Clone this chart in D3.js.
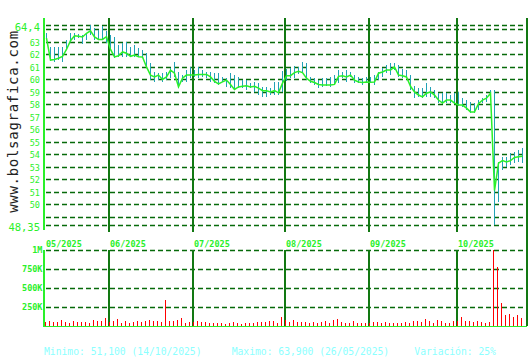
<!DOCTYPE html>
<html><head><meta charset="utf-8">
<script src="https://cdn.jsdelivr.net/npm/d3@7"></script>
<style>body{margin:0;background:#fff}svg{display:block}</style>
</head><body><svg id="c" width="530" height="360"></svg>
<script>
const dates = [
"2025-05-09","2025-05-12","2025-05-13","2025-05-14","2025-05-15","2025-05-16","2025-05-19","2025-05-20","2025-05-21","2025-05-22","2025-05-23","2025-05-26","2025-05-27","2025-05-28","2025-05-29","2025-05-30",
"2025-06-02","2025-06-03","2025-06-04","2025-06-05","2025-06-06","2025-06-09","2025-06-10","2025-06-11","2025-06-12","2025-06-13","2025-06-16","2025-06-17","2025-06-18","2025-06-19","2025-06-20","2025-06-23","2025-06-24","2025-06-25","2025-06-26","2025-06-27","2025-06-30",
"2025-07-01","2025-07-02","2025-07-03","2025-07-04","2025-07-07","2025-07-08","2025-07-09","2025-07-10","2025-07-11","2025-07-14","2025-07-15","2025-07-16","2025-07-17","2025-07-18","2025-07-21","2025-07-22","2025-07-23","2025-07-24","2025-07-25","2025-07-28","2025-07-29","2025-07-30","2025-07-31",
"2025-08-01","2025-08-04","2025-08-05","2025-08-06","2025-08-07","2025-08-08","2025-08-11","2025-08-12","2025-08-13","2025-08-14","2025-08-15","2025-08-18","2025-08-19","2025-08-20","2025-08-21","2025-08-22","2025-08-25","2025-08-26","2025-08-27","2025-08-28","2025-08-29",
"2025-09-01","2025-09-02","2025-09-03","2025-09-04","2025-09-05","2025-09-08","2025-09-09","2025-09-10","2025-09-11","2025-09-12","2025-09-15","2025-09-16","2025-09-17","2025-09-18","2025-09-19","2025-09-22","2025-09-23","2025-09-24","2025-09-25","2025-09-26","2025-09-29","2025-09-30",
"2025-10-01","2025-10-02","2025-10-03","2025-10-06","2025-10-07","2025-10-08","2025-10-09","2025-10-10","2025-10-13","2025-10-14","2025-10-15","2025-10-16","2025-10-17","2025-10-20","2025-10-21","2025-10-22","2025-10-23"];

const close = [
63.3,61.55,61.6,61.7,61.85,62.4,63.1,63.5,63.45,63.4,63.7,63.9,63.4,63.2,63.2,63.43,
62.4,61.8,61.9,62.2,62.1,61.85,61.95,61.82,61.8,61.0,60.35,60.2,60.35,60.0,60.2,60.75,60.5,59.4,60.1,60.35,60.35,
60.35,60.4,60.4,60.4,60.2,59.85,59.65,59.8,59.95,59.6,59.2,59.4,59.45,59.5,59.4,59.45,59.3,59.1,59.1,59.0,59.1,58.93,59.7,
60.3,60.3,60.55,60.65,60.55,60.1,59.85,59.75,59.6,59.55,59.55,59.55,59.6,60.25,60.3,60.2,60.35,59.95,59.8,59.75,59.8,
59.77,59.8,60.5,60.6,60.75,60.75,61.0,60.35,60.3,60.2,59.45,59.0,58.75,58.6,58.9,59.0,58.75,58.35,58.1,58.35,58.35,58.1,
57.95,57.95,57.7,57.4,57.4,58.05,58.35,58.5,58.9,51.1,53.3,53.5,53.4,53.5,53.75,53.8,53.85];

const high = [
63.75,62.62,62.57,62.57,62.62,63.16,63.7,63.7,63.62,63.56,63.75,64.36,64.1,63.97,64.3,63.9,
63.56,63.43,62.76,62.89,63.03,62.63,62.76,62.49,62.36,62.09,61.29,60.62,60.48,60.48,60.62,60.88,61.42,60.62,60.35,60.75,61.02,
60.75,61.02,60.75,60.62,60.62,60.48,60.48,60.22,60.08,60.48,60.35,60.22,59.95,59.95,59.68,59.82,59.68,59.41,59.41,59.28,59.82,59.82,60.7,
60.8,60.95,61.1,61.02,61.43,61.29,60.22,60.08,59.95,60.08,60.08,60.22,60.35,60.75,60.62,60.75,60.62,60.35,60.22,60.08,60.22,
60.22,60.35,60.62,60.89,61.16,61.29,61.29,61.16,60.8,60.75,60.35,59.5,59.28,59.28,59.7,59.41,59.15,58.88,58.88,58.88,58.75,58.88,
59.01,58.48,58.35,58.21,58.08,58.35,58.48,58.75,59.15,59.15,53.4,53.8,53.8,54.07,54.2,54.34,54.47];

const low = [
63.2,61.5,61.42,61.55,61.42,62.36,63.02,63.16,63.3,62.8,63.16,63.56,63.16,63.16,63.16,62.9,
62.36,61.75,61.77,61.82,61.82,61.8,61.82,61.8,61.75,60.95,59.95,59.82,59.95,59.82,59.95,60.08,60.22,59.28,59.82,59.82,60.08,
60.22,60.08,60.22,60.08,59.82,59.68,59.55,59.78,59.41,59.28,59.15,59.35,59.28,59.15,59.28,59.01,58.74,58.6,58.6,58.74,58.74,58.75,59.0,
59.9,60.08,60.15,60.4,60.48,59.95,59.68,59.55,59.28,59.41,59.5,59.41,59.55,59.68,60.08,59.82,60.22,59.68,59.68,59.55,59.68,
59.68,59.55,59.95,60.22,60.48,60.35,60.75,60.22,60.08,60.08,59.15,58.55,58.6,58.55,58.6,58.6,58.48,58.08,58.05,58.08,58.08,58.05,
57.9,57.81,57.54,57.35,57.28,57.54,58.08,58.21,58.6,48.32,50.2,52.73,53.0,53.14,53.27,53.4,53.27];

const volume = [
57,70,53,53,79,53,35,66,53,53,53,35,79,66,66,105,
57,66,88,35,66,35,53,66,53,66,79,66,66,53,342,66,66,79,105,35,53,
53,66,53,53,35,35,35,35,22,35,53,35,22,35,35,35,53,53,53,66,66,35,118,
79,53,79,53,53,53,35,53,35,53,66,35,79,92,53,35,35,66,35,35,35,
35,53,53,35,53,35,35,35,35,53,35,66,66,53,88,66,35,79,66,35,35,66,
66,118,66,66,53,66,53,35,53,1000,781,307,145,158,118,145,105].map(v => v * 1000);

const gridValues = [48.35,49,50,51,52,53,54,55,56,57,58,59,60,61,62,63,64,64.4];
const labelTicks = [50,51,52,53,54,55,56,57,58,59,60,61,62,63];
const edgeTicks = [48.35, 64.4];
const volTicks = [250000, 500000, 750000, 1000000];
const volTickLabels = ["250K","500K","750K","1M"];
const monthStarts = ["2025-05-09","2025-06-02","2025-07-01","2025-08-01","2025-09-01","2025-10-01"];
const monthLabels = ["05/2025","06/2025","07/2025","08/2025","09/2025","10/2025"];
const footer = ["Minimo: 51,100 (14/10/2025)","Maximo: 63,900 (26/05/2025)","Variación: 25%"];
const siteText = "www.bolsagrafica.com";

const svg = d3.select("#c");
const L = 44, R = 527;
const x = d3.scaleBand().domain(dates).range([45, 525]).padding(0);
const y = d3.scaleLinear().domain([48.35, 64.4]).range([224.9, 24.5]);
const yv = d3.scaleLinear().domain([0, 1000000]).range([326, 250]);

const DASH = "#066a0a", MONTH = "#127812", LIME = "#2af02a", TEAL = "#22a2b6";
const mono = "'DejaVu Sans Mono', monospace";

svg.append("rect").attr("width",530).attr("height",360).attr("fill","#fff");

// price grid
svg.append("g").selectAll("line").data(gridValues).join("line")
  .attr("x1", L + 2).attr("x2", R).attr("y1", d => Math.round(y(d)) + 0.5).attr("y2", d => Math.round(y(d)) + 0.5)
  .attr("stroke", DASH).attr("stroke-width", 1.4).attr("stroke-dasharray","5,3");
// volume grid
svg.append("g").selectAll("line").data(volTicks).join("line")
  .attr("x1", L + 2).attr("x2", R).attr("y1", d => Math.round(yv(d)) + 0.5).attr("y2", d => Math.round(yv(d)) + 0.5)
  .attr("stroke", DASH).attr("stroke-width", 1.4).attr("stroke-dasharray","5,3");

// month lines
const mLines = monthStarts.slice(1);
svg.append("g").selectAll("line").data(mLines).join("line")
  .attr("x1", d => x(d)).attr("x2", d => x(d)).attr("y1", 18).attr("y2", 232)
  .attr("stroke", MONTH).attr("stroke-width", 2).attr("shape-rendering","crispEdges");
svg.append("g").selectAll("line").data(mLines).join("line")
  .attr("x1", d => x(d)).attr("x2", d => x(d)).attr("y1", 250).attr("y2", 326)
  .attr("stroke", MONTH).attr("stroke-width", 2).attr("shape-rendering","crispEdges");
// right edge
svg.append("line").attr("x1",R).attr("x2",R).attr("y1",18).attr("y2",326)
  .attr("stroke", MONTH).attr("stroke-width",1.5).attr("shape-rendering","crispEdges");

// month labels
svg.append("g").selectAll("text").data(monthStarts).join("text")
  .attr("x", (d,i) => i === 0 ? L + 2 : x(d) + 1).attr("y", 247)
  .attr("font-family", mono).attr("font-size", 8.5).attr("font-weight","bold")
  .attr("fill", LIME).text((d,i) => monthLabels[i]);

// volume bars
svg.append("g").selectAll("rect").data(dates).join("rect")
  .attr("x", d => x(d)).attr("width", 1)
  .attr("y", (d,i) => yv(volume[i])).attr("height", (d,i) => yv(0) - yv(volume[i]))
  .attr("fill", "#ff0000").attr("shape-rendering","crispEdges");

// high-low bars
svg.append("g").selectAll("rect").data(dates).join("rect")
  .attr("x", d => x(d) + 1).attr("width", 1)
  .attr("y", (d,i) => y(high[i])).attr("height", (d,i) => y(low[i]) - y(high[i]))
  .attr("fill", TEAL).attr("shape-rendering","crispEdges");

// close line
svg.append("path").datum(dates)
  .attr("d", d3.line().x(d => x(d) + 1.5).y((d,i) => y(close[i])))
  .attr("fill","none").attr("stroke", LIME).attr("stroke-width", 1.5);

// axes
svg.append("line").attr("x1",L).attr("x2",L).attr("y1",18).attr("y2",230)
  .attr("stroke", LIME).attr("stroke-width",2).attr("shape-rendering","crispEdges");
svg.append("line").attr("x1",L).attr("x2",L).attr("y1",250).attr("y2",327)
  .attr("stroke", LIME).attr("stroke-width",2).attr("shape-rendering","crispEdges");
svg.append("line").attr("x1",L).attr("x2",R).attr("y1",326.5).attr("y2",326.5)
  .attr("stroke", LIME).attr("stroke-width",1).attr("shape-rendering","crispEdges");

// price labels
svg.append("g").selectAll("text").data(labelTicks).join("text")
  .attr("x", 40).attr("y", d => y(d) + 4).attr("text-anchor","end")
  .attr("font-family", mono).attr("font-size", 8.5).attr("fill", LIME).text(d => d);
svg.append("g").selectAll("text").data(edgeTicks).join("text")
  .attr("x", 40).attr("y", d => y(d) + 6.3).attr("text-anchor","end")
  .attr("font-family", mono).attr("font-size", 10.5).attr("fill", LIME)
  .text(d => String(d).replace(".", ","));
// volume labels
svg.append("g").selectAll("text").data(volTicks).join("text")
  .attr("x", 42.5).attr("y", d => yv(d) + 3).attr("text-anchor","end")
  .attr("font-family", mono).attr("font-size", 8.5).attr("font-weight","bold")
  .attr("fill", LIME).text((d,i) => volTickLabels[i]);

// site text
svg.append("text").attr("transform","translate(17.5,121.5) rotate(-90)")
  .attr("text-anchor","middle").attr("font-family", mono).attr("font-size", 14)
  .attr("letter-spacing", 0.7).attr("fill", "#222").text(siteText);

// footer
const fx = [44, 231.7, 414.3];
svg.append("g").selectAll("text").data(footer).join("text")
  .attr("x", (d,i) => fx[i]).attr("y", 355)
  .attr("font-family", mono).attr("font-size", 9.7).attr("fill", "#8cffff").text(d => d);
</script>
</body></html>
